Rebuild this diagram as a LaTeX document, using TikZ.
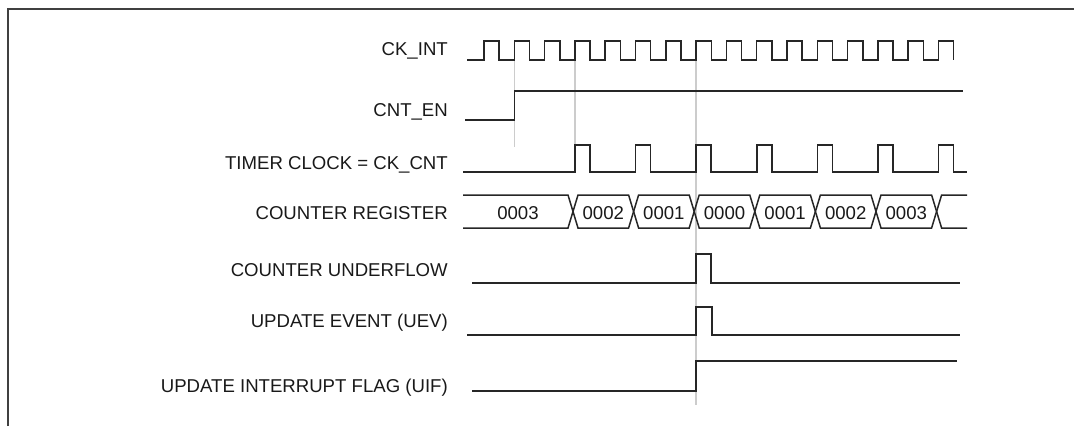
\documentclass[tikz,border=0pt]{standalone}
\usepackage{fontspec}
\setmainfont{Liberation Sans}
\begin{document}
\begin{tikzpicture}[x=1pt,y=-1pt,
  sig/.style={line width=1.5pt, draw=black!85, line join=miter},
  guide/.style={line width=1.1pt, draw=black!20},
  frame/.style={line width=2pt, draw=black!75},
  lbl/.style={anchor=base east, inner sep=0pt, font=\fontsize{18.6}{20}\selectfont, text=black!90},
  val/.style={anchor=base, inner sep=0pt, font=\fontsize{18.6}{20}\selectfont, text=black!90}]
\useasboundingbox (0,0) rectangle (1074,426);
% frame
\draw[frame] (8,426) -- (8,9) -- (1074,9);
% labels
\node[lbl] (lck) at (448,55) {CK\_INT};
\node[lbl] (len) at (448,116.7) {CNT\_EN};
\node[lbl] (ltc) at (448,169) {TIMER CLOCK = CK\_CNT};
\node[lbl] (lcr) at (448,219) {COUNTER REGISTER};
\node[lbl] (lcu) at (448,276) {COUNTER UNDERFLOW};
\node[lbl] (lue) at (448,327.4) {UPDATE EVENT (UEV)};
\node[lbl] (lui) at (448,392.5) {UPDATE INTERRUPT FLAG (UIF)};
% guides
\draw[guide] (514.3,60) -- (514.3,147);
\draw[guide] (575,60) -- (575,172);
\draw[guide] (696,60) -- (696,405);
% CK_INT
\draw[sig] (467,60) \foreach \k in {0,...,15}{ -- ({484+30.3*\k},60) -- ({484+30.3*\k},41) -- ({499.15+30.3*\k},41) -- ({499.15+30.3*\k},60) };
% CNT_EN
\draw[sig] (465,120) -- (514.3,120) -- (514.3,91) -- (963,91);
% TIMER CLOCK
\draw[sig] (463,172) \foreach \k in {0,...,6}{ -- ({575+60.6*\k},172) -- ({575+60.6*\k},145) -- ({590+60.6*\k},145) -- ({590+60.6*\k},172) } -- (967,172);
% COUNTER REGISTER (bus)
\draw[sig] (463,195) -- (568,195) -- (578,228) -- (628.6,228) -- (638.6,195) -- (689.2,195) -- (699.2,228) -- (749.8,228) -- (759.8,195) -- (810.4,195) -- (820.4,228) -- (871,228) -- (881,195) -- (931.6,195) -- (941.6,228) -- (967,228);
\draw[sig] (463,228) -- (568,228) -- (578,195) -- (628.6,195) -- (638.6,228) -- (689.2,228) -- (699.2,195) -- (749.8,195) -- (759.8,228) -- (810.4,228) -- (820.4,195) -- (871,195) -- (881,228) -- (931.6,228) -- (941.6,195) -- (967,195);
\node[val] (v0) at (518,219.6) {0003};
\node[val] (v1) at (603.3,219.6) {0002};
\node[val] (v2) at (663.9,219.6) {0001};
\node[val] (v3) at (724.5,219.6) {0000};
\node[val] (v4) at (785.1,219.6) {0001};
\node[val] (v5) at (845.7,219.6) {0002};
\node[val] (v6) at (906.3,219.6) {0003};
% COUNTER UNDERFLOW
\draw[sig] (472,283) -- (696,283) -- (696,254) -- (711,254) -- (711,283) -- (960,283);
% UPDATE EVENT
\draw[sig] (467,335) -- (696,335) -- (696,307) -- (712,307) -- (712,335) -- (960,335);
% UIF
\draw[sig] (472,391) -- (696,391) -- (696,361) -- (957,361);
\end{tikzpicture}
\end{document}
